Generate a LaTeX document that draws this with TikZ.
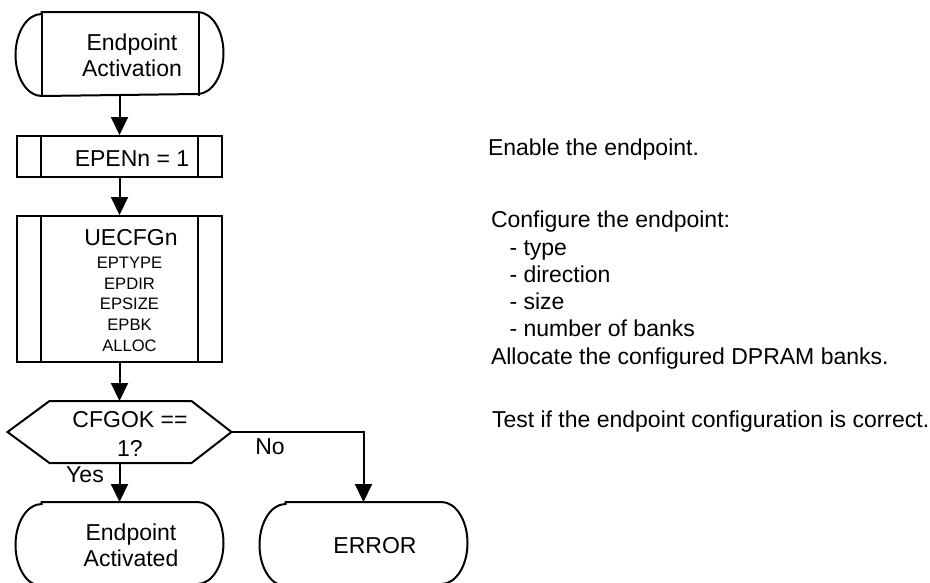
\documentclass[tikz,border=0pt]{standalone}
\usepackage{fontspec}
\setmainfont{Liberation Sans}
\usetikzlibrary{arrows.meta}
\begin{document}
\begin{tikzpicture}[x=1pt,y=-1pt,line width=2pt,
  slot/.style={inner sep=0pt,draw=none,minimum width=206pt,minimum height=82pt},
  procbox/.style={inner sep=0pt,draw,minimum width=205pt},
  arr/.style={-{Triangle[width=17pt,length=18pt]}},
  big/.style={font=\fontsize{23}{#1}\selectfont,inner sep=0pt,anchor=base},
  big/.default=26,
  small/.style={font=\fontsize{16.6}{20.7}\selectfont,inner sep=0pt,anchor=base},
  note/.style={font=\fontsize{23}{27.3}\selectfont,inner sep=0pt,anchor=base west}]
\useasboundingbox (0,0) rectangle (930,582);
\fill[white] (0,0) rectangle (930,582);
\clip (0,0) rectangle (930,582);

% start terminal with bars
\node[slot] (s) at (119.5,54) {};
\draw ([xshift=26pt]s.north west) -- ([xshift=-26pt]s.north east)
  arc[start angle=90,end angle=-90,x radius=26pt,y radius=41pt]
  -- ([xshift=26pt]s.south west)
  arc[start angle=270,end angle=90,x radius=26pt,y radius=41pt] -- cycle;
\draw ([xshift=26pt]s.north west) -- ([xshift=26pt]s.south west);
\draw ([xshift=-25pt]s.north east) -- ([xshift=-25pt]s.south east);
\node[big=25.3] (t1) at (132,50.7) {\begin{tabular}[t]{@{}c@{}}Endpoint\\Activation\end{tabular}};

% EPENn box
\node[procbox,minimum height=41pt] (epen) at (119.5,156.5) {};
\draw ([xshift=25pt]epen.north west) -- ([xshift=25pt]epen.south west);
\draw ([xshift=-25pt]epen.north east) -- ([xshift=-25pt]epen.south east);
\node[big] (t2) at (132,166.7) {EPENn = 1};

% UECFGn box
\node[procbox,minimum height=146pt] (cfg) at (119.5,289) {};
\draw ([xshift=25pt]cfg.north west) -- ([xshift=25pt]cfg.south west);
\draw ([xshift=-25pt]cfg.north east) -- ([xshift=-25pt]cfg.south east);
\node[big] (t3) at (131,245.7) {UECFGn};
\node[small] (t4) at (129.5,268.3) {\begin{tabular}[t]{@{}c@{}}EPTYPE\\EPDIR\\EPSIZE\\EPBK\\ALLOC\end{tabular}};

% decision hexagon
\node[inner sep=0pt,draw=none,minimum width=222pt,minimum height=60pt] (dec) at (119.5,432) {};
\draw (dec.west) -- ([xshift=42pt]dec.north west) -- ([xshift=-40pt]dec.north east)
  -- (dec.east) -- ([xshift=-40pt]dec.south east) -- ([xshift=42pt]dec.south west) -- cycle;
\node[big=28.7] (t5) at (130,427.3) {\begin{tabular}[t]{@{}c@{}}CFGOK ==\\1?\end{tabular}};

% end terminals
\node[slot] (act) at (119.5,544) {};
\draw ([xshift=26pt]act.north west) -- ([xshift=-26pt]act.north east)
  arc[start angle=90,end angle=-90,x radius=26pt,y radius=41pt]
  -- ([xshift=26pt]act.south west)
  arc[start angle=270,end angle=90,x radius=26pt,y radius=41pt] -- cycle;
\node[big=26] (t6) at (131,540) {\begin{tabular}[t]{@{}c@{}}Endpoint\\Activated\end{tabular}};

\node[slot] (err) at (363.5,544) {};
\draw ([xshift=26pt]err.north west) -- ([xshift=-26pt]err.north east)
  arc[start angle=90,end angle=-90,x radius=26pt,y radius=41pt]
  -- ([xshift=26pt]err.south west)
  arc[start angle=270,end angle=90,x radius=26pt,y radius=41pt] -- cycle;
\node[big] (t7) at (375,553.3) {ERROR};

% connectors
\draw[arr] (s.south) -- (epen.north);
\draw[arr] (epen.south) -- (cfg.north);
\draw[arr] (cfg.south) -- (dec.north);
\draw[arr] (dec.south) -- (act.north);
\draw[arr] (dec.east) -| (err.north);
\node[big] (yes) at (85,482.7) {Yes};
\node[big] (no) at (270,454) {No};

% notes
\node[note] (n1) at (487,155.7) {Enable the endpoint.};
\node[note] (n2) at (490,227.7) {\begin{tabular}[t]{@{}l@{}}Configure the endpoint:\\
  \hspace*{18.5pt}- type\\ \hspace*{18.5pt}- direction\\ \hspace*{18.5pt}- size\\
  \hspace*{18.5pt}- number of banks\\ Allocate the configured DPRAM banks.\end{tabular}};
\node[note] (n3) at (491,427.3) {Test if the endpoint configuration is correct.};
\end{tikzpicture}
\end{document}
